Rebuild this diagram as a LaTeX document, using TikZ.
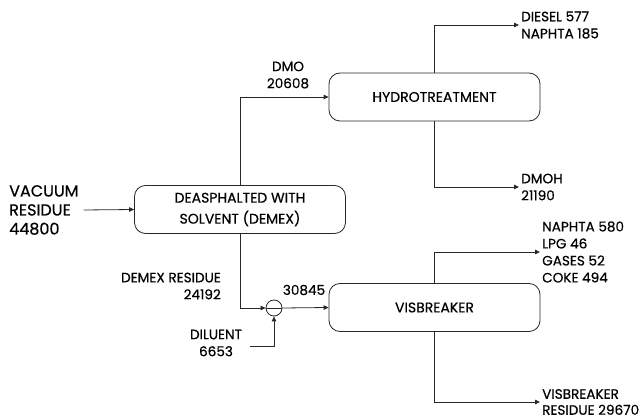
\documentclass[tikz,border=0pt]{standalone}
\usepackage{fontspec}
\setmainfont{Poppins}[FakeBold=0.5]
\usetikzlibrary{positioning,arrows.meta,calc}
\definecolor{LineGrey}{RGB}{40,40,40}
\tikzset{
  flow/.style={-{Triangle[length=5pt,width=4.5pt]},line width=0.8pt,draw=LineGrey},
  pipe/.style={line width=0.8pt,draw=LineGrey},
  unit/.style={draw=LineGrey,line width=0.8pt,rounded corners=11pt,
    minimum width=211pt,minimum height=48pt,align=center,
    font=\fontsize{14}{21}\selectfont},
  mixer/.style={circle,draw=LineGrey,line width=0.8pt,minimum size=16pt,inner sep=0pt},
  stream/.style={align=left,inner sep=2pt,font=\fontsize{13.6}{17}\selectfont},
  feed/.style={align=left,inner sep=0pt,font=\fontsize{16}{19}\selectfont}
}
\begin{document}
\begin{tikzpicture}[x=1pt,y=-1pt]
  \useasboundingbox (0,0) rectangle (642,419);
  % process units
  \node[unit] (demex) at (240,209.5) {DEASPHALTED WITH\\SOLVENT (DEMEX)};
  \node[unit] (hydro) at (434.5,97) {HYDROTREATMENT};
  \node[unit] (visb) at (434.5,307.5) {VISBREAKER};
  \node[mixer] (mix) at (274,308) {};
  \draw[pipe] (mix.west) -- (mix.east);
  % feed and stream labels
  \node[feed,anchor=west] (vac) at (9,210) {VACUUM\\RESIDUE\\44800};
  \node[stream,align=center] (dmo) at (288,75) {DMO\\20608};
  \node[stream,align=right,anchor=east] (dres) at (223,286) {DEMEX RESIDUE\\24192};
  \node[stream] (mixout) at (304,290) {30845};
  \node[stream,align=center] (dil) at (216,343) {DILUENT\\6653};
  \coordinate (dilin) at (250,346);
  \node[stream,anchor=west] (dsl) at (519,25) {DIESEL 577\\NAPHTA 185};
  \node[stream,anchor=west] (dmoh) at (519,187) {DMOH\\21190};
  \node[stream,anchor=west] (light) at (540,252) {NAPHTA 580\\LPG 46\\GASES 52\\COKE 494};
  \node[stream,anchor=west,font=\fontsize{13.6}{16}\selectfont] (vres) at (540,402) {VISBREAKER\\RESIDUE 29670};
  % connectors
  \draw[flow] (vac.east)++(5,0) -- (demex.west);
  \draw[flow] (demex.north) |- (hydro.west);
  \draw[flow] (demex.south) |- (mix.west);
  \draw[flow] (mix.east) -- (visb.west);
  \draw[flow] (dilin) -| (mix.south);
  \draw[flow] (hydro.north) |- (dsl.west);
  \draw[flow] (hydro.south) |- (dmoh.west);
  \draw[flow] (visb.north) |- (light.west);
  \draw[flow] (visb.south) |- (vres.west);
\end{tikzpicture}
\end{document}
